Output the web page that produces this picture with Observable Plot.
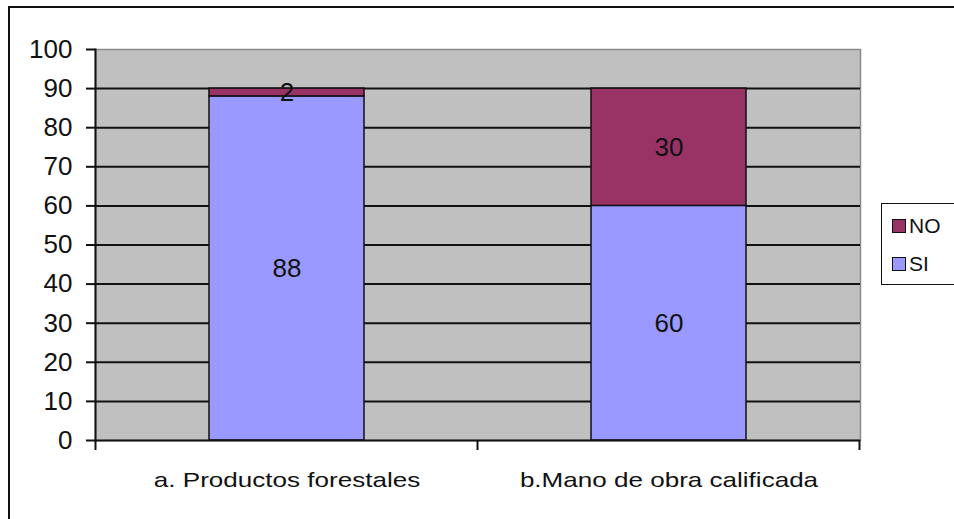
<!DOCTYPE html>
<html>
<head>
<meta charset="utf-8">
<script src="https://cdn.jsdelivr.net/npm/d3@7"></script>
<script src="https://cdn.jsdelivr.net/npm/@observablehq/plot@0.6"></script>
<style>
  html, body { margin: 0; padding: 0; background: #fff; overflow: hidden; }
  #wrap { position: relative; width: 954px; height: 519px; font-family: "Liberation Sans", Arial, sans-serif; }
  #border { position: absolute; left: 8px; top: 6px; width: 980px; height: 560px; border: 2px solid #111; box-sizing: border-box; pointer-events: none; z-index: 3; }
  #chart { position: absolute; left: 0; top: 0; z-index: 1; }
  #legend { position: absolute; left: 881px; top: 203px; width: 100px; height: 82px; border: 1.5px solid #111; background: #fff; box-sizing: border-box; z-index: 2; font-size: 21px; color: #111; }
  .item { position: absolute; left: 10px; display: flex; align-items: center; height: 20px; }
  .sw { width: 12px; height: 12px; border: 1.5px solid #111; margin-right: 3px; }
</style>
</head>
<body>
<div id="wrap">
  <div id="chart"></div>
  <div id="legend"></div>
  <div id="border"></div>
</div>
<script>
const categories = ["a. Productos forestales", "b.Mano de obra calificada"];
const seriesNames = ["SI", "NO"];
const siValues = [88, 60];
const noValues = [2, 30];
const yTicks = [0, 10, 20, 30, 40, 50, 60, 70, 80, 90, 100];
const seriesColors = ["#9999FF", "#993366"];
const legendOrder = ["NO", "SI"];

const rows = [];
categories.forEach((c, i) => {
  rows.push({cat: c, series: "SI", value: siValues[i]});
  rows.push({cat: c, series: "NO", value: noValues[i]});
});

const boundaryTicks = Plot.ruleX(categories, {
  x: d => d,
  render(index, scales, values, dimensions) {
    const x = scales.x, y = scales.y;
    const bw = x.bandwidth();
    const step = x.step();
    const off = (step - bw) / 2;
    const pos = categories.map(c => x(c) - off);
    pos.push(x(categories[categories.length - 1]) + bw + off);
    const y0 = y(0);
    const g = d3.create("svg:g");
    for (const p of pos) {
      g.append("line").attr("x1", p).attr("x2", p).attr("y1", y0).attr("y2", y0 + 10)
        .attr("stroke", "#111").attr("stroke-width", 2);
    }
    return g.node();
  }
});

const chart = Plot.plot({
  width: 954,
  height: 519,
  marginLeft: 95,
  marginRight: 94,
  marginTop: 49,
  marginBottom: 79,
  style: {background: "transparent", fontFamily: "'Liberation Sans', Arial, sans-serif", color: "#111", overflow: "visible"},
  x: {domain: categories, paddingInner: 0.595, paddingOuter: 0.2975, label: null},
  y: {domain: [0, 100], label: null},
  color: {domain: seriesNames, range: seriesColors},
  marks: [
    Plot.frame({fill: "#C0C0C0", stroke: "#8a8a8a", strokeWidth: 1.5}),
    Plot.ruleY(yTicks.filter(d => d > 0 && d < 100), {stroke: "#111", strokeWidth: 2}),
    Plot.barY(rows, {x: "cat", y: "value", z: "series", fill: "series", stroke: "#111", strokeWidth: 1.5}),
    Plot.text(rows, Plot.stackY({x: "cat", y: "value", z: "series", text: d => String(d.value), fontSize: 26, fill: "#111"})),
    Plot.ruleY([0], {stroke: "#111", strokeWidth: 2}),
    Plot.frame({anchor: "left", stroke: "#111", strokeWidth: 2}),
    boundaryTicks,
    Plot.axisY(yTicks, {tickSize: 9, tickPadding: 14, fontSize: 26, strokeWidth: 2, stroke: "#111"}),
    Plot.axisX({tickSize: 0, tickPadding: 32, fontSize: 21})
  ]
});

document.getElementById("chart").appendChild(chart);

// widen category labels to match the reference's stretched lettering
d3.select(chart).selectAll('g[aria-label="x-axis tick label"] text').each(function() {
  const w = this.getComputedTextLength();
  this.setAttribute("textLength", w * 1.24);
  this.setAttribute("lengthAdjust", "spacingAndGlyphs");
});

const legend = document.getElementById("legend");
legendOrder.forEach((s, i) => {
  const item = document.createElement("div");
  item.className = "item";
  item.style.top = (12 + i * 38) + "px";
  const sw = document.createElement("div");
  sw.className = "sw";
  sw.style.background = seriesColors[seriesNames.indexOf(s)];
  const t = document.createElement("span");
  t.textContent = s;
  item.appendChild(sw);
  item.appendChild(t);
  legend.appendChild(item);
});
</script>
</body>
</html>
